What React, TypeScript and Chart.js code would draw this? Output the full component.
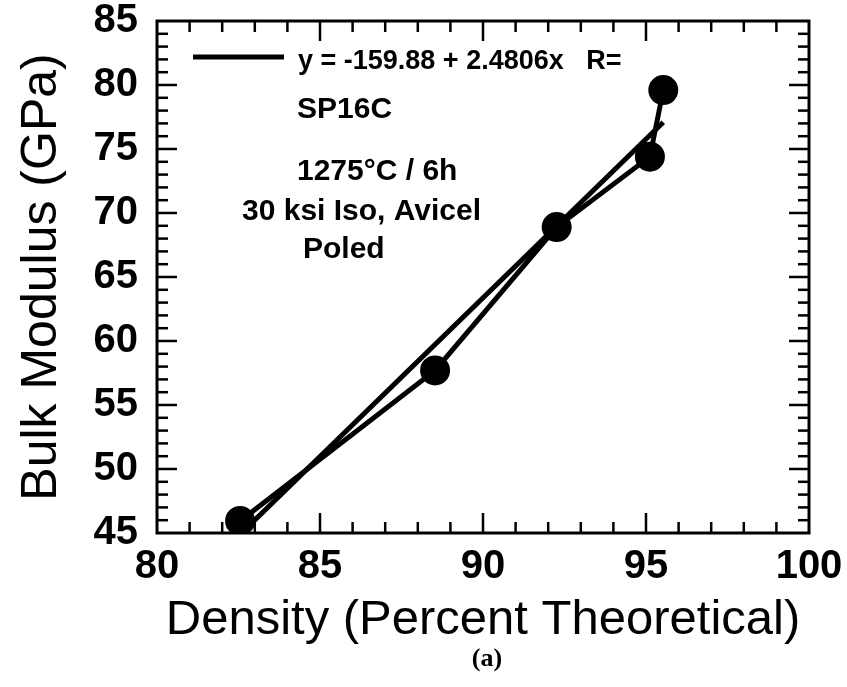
import React, { useEffect, useRef } from "react";
import { Chart, registerables } from "chart.js";

Chart.register(...registerables);

// ---- data ----
const densityValues = [82.55, 88.53, 92.26, 95.12, 95.53];
const bulkModulusValues = [45.94, 57.7, 68.9, 74.4, 79.6];
const fitIntercept = -159.88;
const fitSlope = 2.4806;
const fitXRange = [82.55, 95.53];
const xMin = 80;
const xMax = 100;
const yMin = 45;
const yMax = 85;
const majorStep = 5;
const minorStep = 1;
const equationLabel = "y = -159.88 + 2.4806x   R=";
const annotationLines = ["SP16C", "1275°C / 6h", "30 ksi Iso, Avicel", "Poled"];
const xTitle = "Density (Percent Theoretical)";
const yTitle = "Bulk Modulus (GPa)";
const panelLabel = "(a)";

const SANS = '"Liberation Sans", Arial, sans-serif';
const SERIF = '"Liberation Serif", "Times New Roman", serif';

const frameTicksPlugin = {
  id: "frameTicks",
  afterDatasetsDraw(chart: any) {
    const { ctx, chartArea: a, scales } = chart;
    const xs = scales.x;
    const ys = scales.y;
    ctx.save();
    ctx.strokeStyle = "#000";
    ctx.lineWidth = 2.5;
    const seg = (x1: number, y1: number, x2: number, y2: number) => {
      ctx.beginPath();
      ctx.moveTo(x1, y1);
      ctx.lineTo(x2, y2);
      ctx.stroke();
    };
    for (let v = xMin + minorStep; v < xMax; v += minorStep) {
      const px = xs.getPixelForValue(v);
      const len = v % majorStep === 0 ? 20 : 11;
      seg(px, a.bottom, px, a.bottom - len);
      seg(px, a.top, px, a.top + len);
    }
    for (let v = yMin + minorStep; v < yMax; v += minorStep) {
      const py = ys.getPixelForValue(v);
      const len = v % majorStep === 0 ? 20 : 11;
      seg(a.left, py, a.left + len, py);
      seg(a.right, py, a.right - len, py);
    }
    ctx.lineWidth = 3;
    ctx.strokeRect(a.left, a.top, a.right - a.left, a.bottom - a.top);
    ctx.restore();
  },
};

const annotationPlugin = {
  id: "annotations",
  afterDraw(chart: any) {
    const { ctx } = chart;
    ctx.save();
    ctx.fillStyle = "#000";
    ctx.strokeStyle = "#000";
    // legend sample line
    ctx.lineWidth = 5;
    ctx.beginPath();
    ctx.moveTo(193, 57);
    ctx.lineTo(284, 57);
    ctx.stroke();
    ctx.textBaseline = "middle";
    ctx.textAlign = "left";
    ctx.font = `bold 27px ${SANS}`;
    ctx.fillText(equationLabel, 298, 62);
    ctx.font = `bold 30px ${SANS}`;
    const lefts = [297, 297, 242, 303];
    const mids = [110, 172, 212, 250];
    annotationLines.forEach((t, i) => ctx.fillText(t, lefts[i], mids[i]));
    ctx.font = `bold 26px ${SERIF}`;
    ctx.textAlign = "center";
    ctx.fillText(panelLabel, 487, 659);
    ctx.restore();
  },
};

export default function App() {
  const canvasRef = useRef<HTMLCanvasElement | null>(null);

  useEffect(() => {
    if (!canvasRef.current) return;
    const points = densityValues.map((x, i) => ({ x, y: bulkModulusValues[i] }));
    const fitPoints = fitXRange.map((x) => ({ x, y: fitIntercept + fitSlope * x }));
    const chart = new Chart(canvasRef.current, {
      type: "scatter",
      data: {
        datasets: [
          {
            label: "fit",
            data: fitPoints,
            showLine: true,
            borderColor: "#000",
            borderWidth: 5,
            pointRadius: 0,
          },
          {
            label: "data",
            data: points,
            showLine: true,
            borderColor: "#000",
            backgroundColor: "#000",
            borderWidth: 5,
            pointRadius: 14,
            pointBackgroundColor: "#000",
            pointBorderColor: "#000",
            pointBorderWidth: 2,
          },
        ],
      },
      options: {
        responsive: false,
        animation: false,
        devicePixelRatio: 1,
        layout: { padding: { top: 21, right: 38, left: 0, bottom: 0 } },
        plugins: {
          legend: { display: false },
          tooltip: { enabled: false },
        },
        scales: {
          x: {
            type: "linear",
            position: "bottom",
            min: xMin,
            max: xMax,
            afterFit: (s: any) => {
              s.height = 154;
              s.paddingLeft = 0;
              s.paddingRight = 0;
            },
            ticks: {
              stepSize: majorStep,
              color: "#000",
              padding: 10,
              font: { family: SANS, size: 40, weight: "bold" },
            },
            grid: { display: false, drawTicks: false },
            border: { display: false },
            title: {
              display: true,
              text: xTitle,
              color: "#000",
              font: { family: SANS, size: 49, weight: "normal", lineHeight: 1 },
              padding: { top: 0, bottom: 42 },
            },
          },
          y: {
            type: "linear",
            min: yMin,
            max: yMax,
            afterFit: (s: any) => {
              s.width = 157;
              s.paddingTop = 0;
              s.paddingBottom = 0;
            },
            ticks: {
              stepSize: majorStep,
              color: "#000",
              padding: 19,
              font: { family: SANS, size: 40, weight: "bold" },
            },
            grid: { display: false, drawTicks: false },
            border: { display: false },
            title: {
              display: true,
              text: yTitle,
              color: "#000",
              font: { family: SANS, size: 50, weight: "normal", lineHeight: 1 },
              padding: { top: 17, bottom: 0 },
            },
          },
        },
      },
      plugins: [frameTicksPlugin, annotationPlugin],
    } as any);
    return () => chart.destroy();
  }, []);

  return (
    <div style={{ position: "fixed", left: 0, top: 0, width: 847, height: 687, background: "#fff" }}>
      <canvas ref={canvasRef} width={847} height={687} style={{ display: "block" }} />
    </div>
  );
}
